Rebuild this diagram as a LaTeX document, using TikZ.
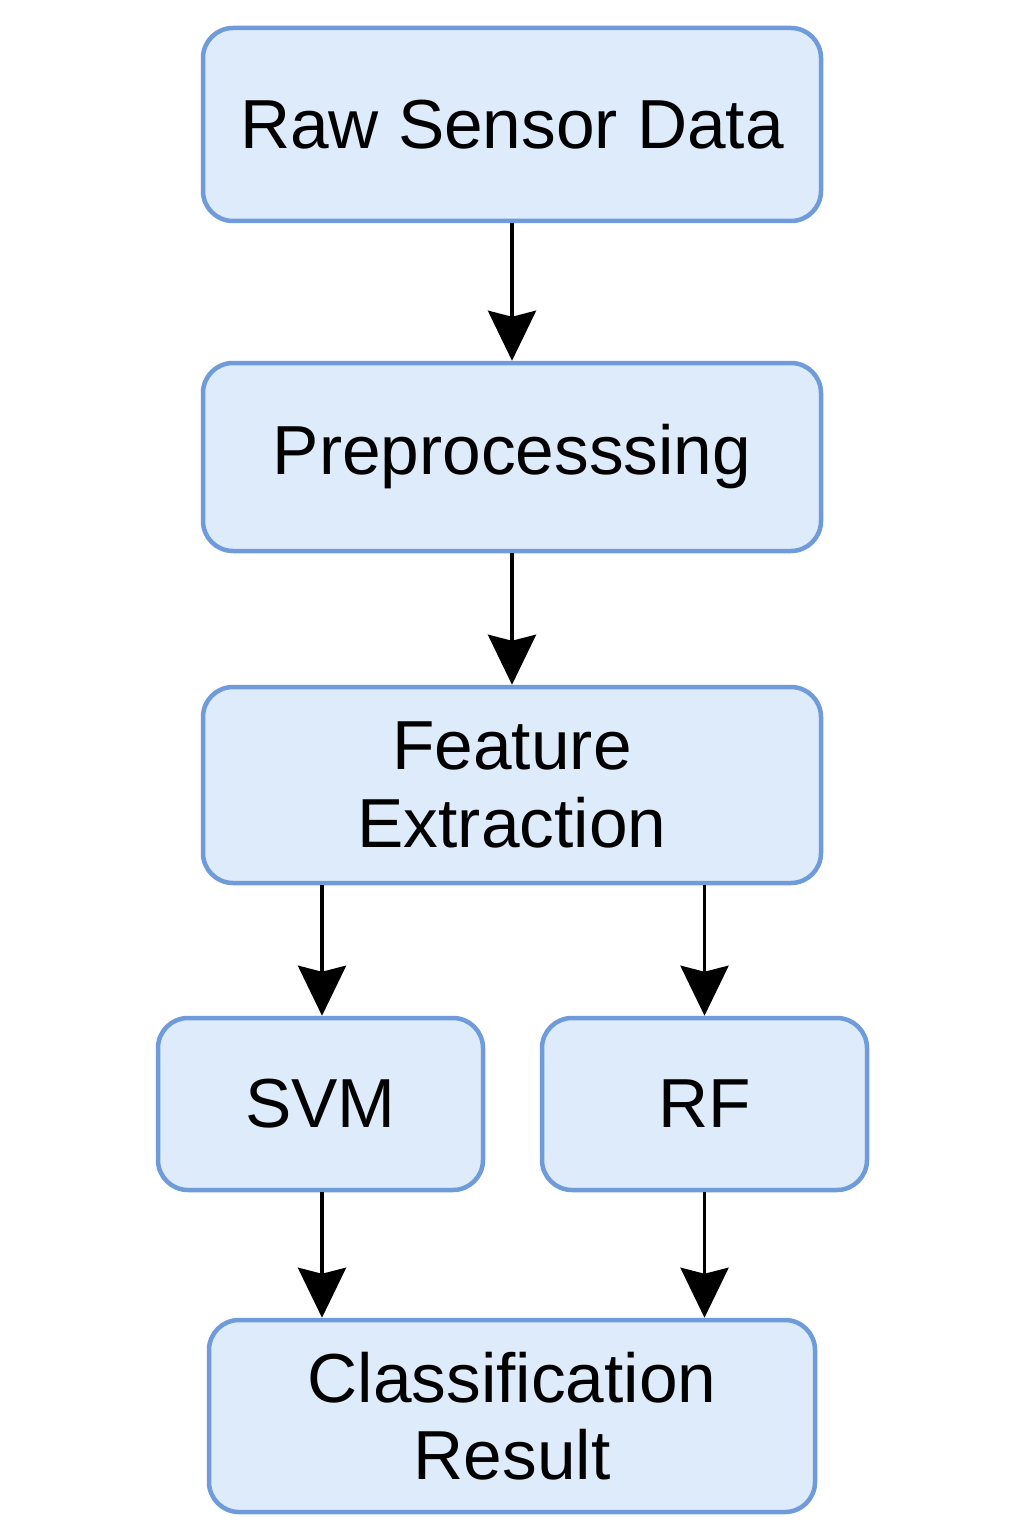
\documentclass[tikz,border=0pt]{standalone}
\usepackage{fontspec}
\setmainfont{Liberation Sans}
\usetikzlibrary{arrows.meta,positioning}

\definecolor{boxfill}{HTML}{DDEBFB}
\definecolor{boxline}{HTML}{6F9BDA}

\begin{document}
\begin{tikzpicture}[
    box/.style={draw=boxline, line width=0.09cm, rounded corners=0.6cm, fill=boxfill, minimum width=12.36cm, minimum height=3.86cm, align=center, font=\fontsize{39.5}{44}\selectfont},
    small/.style={box, minimum width=6.5cm, minimum height=3.44cm},
    arr/.style={-{Stealth[length=1cm, width=0.96cm, inset=0.12cm]}, line width=0.075cm}
]
\useasboundingbox (0,0) rectangle (20.48,-30.72);
\node[box] (raw) at (10.24,-2.49) {Raw Sensor Data};
\node[box, minimum height=3.76cm] (pre) at (10.24,-9.14) {Preprocesssing};
\node[box, minimum height=3.92cm] (feat) at (10.24,-15.70) {Feature\\Extraction};
\node[small] (svm) at (6.41,-22.08) {SVM};
\node[small] (rf) at (14.09,-22.08) {RF};
\node[box, minimum width=12.12cm, minimum height=3.84cm] (res) at (10.24,-28.32) {Classification\\Result};

\draw[arr] (raw) -- (pre);
\draw[arr] (pre) -- (feat);
\draw[arr] ([xshift=0.03cm]svm.north |- feat.south) -- ([xshift=0.03cm]svm.north);
\draw[arr] (rf.north |- feat.south) -- (rf.north);
\draw[arr] ([xshift=0.03cm]svm.south) -- ([xshift=0.03cm]svm.south |- res.north);
\draw[arr] (rf.south) -- (rf.south |- res.north);
\end{tikzpicture}
\end{document}
